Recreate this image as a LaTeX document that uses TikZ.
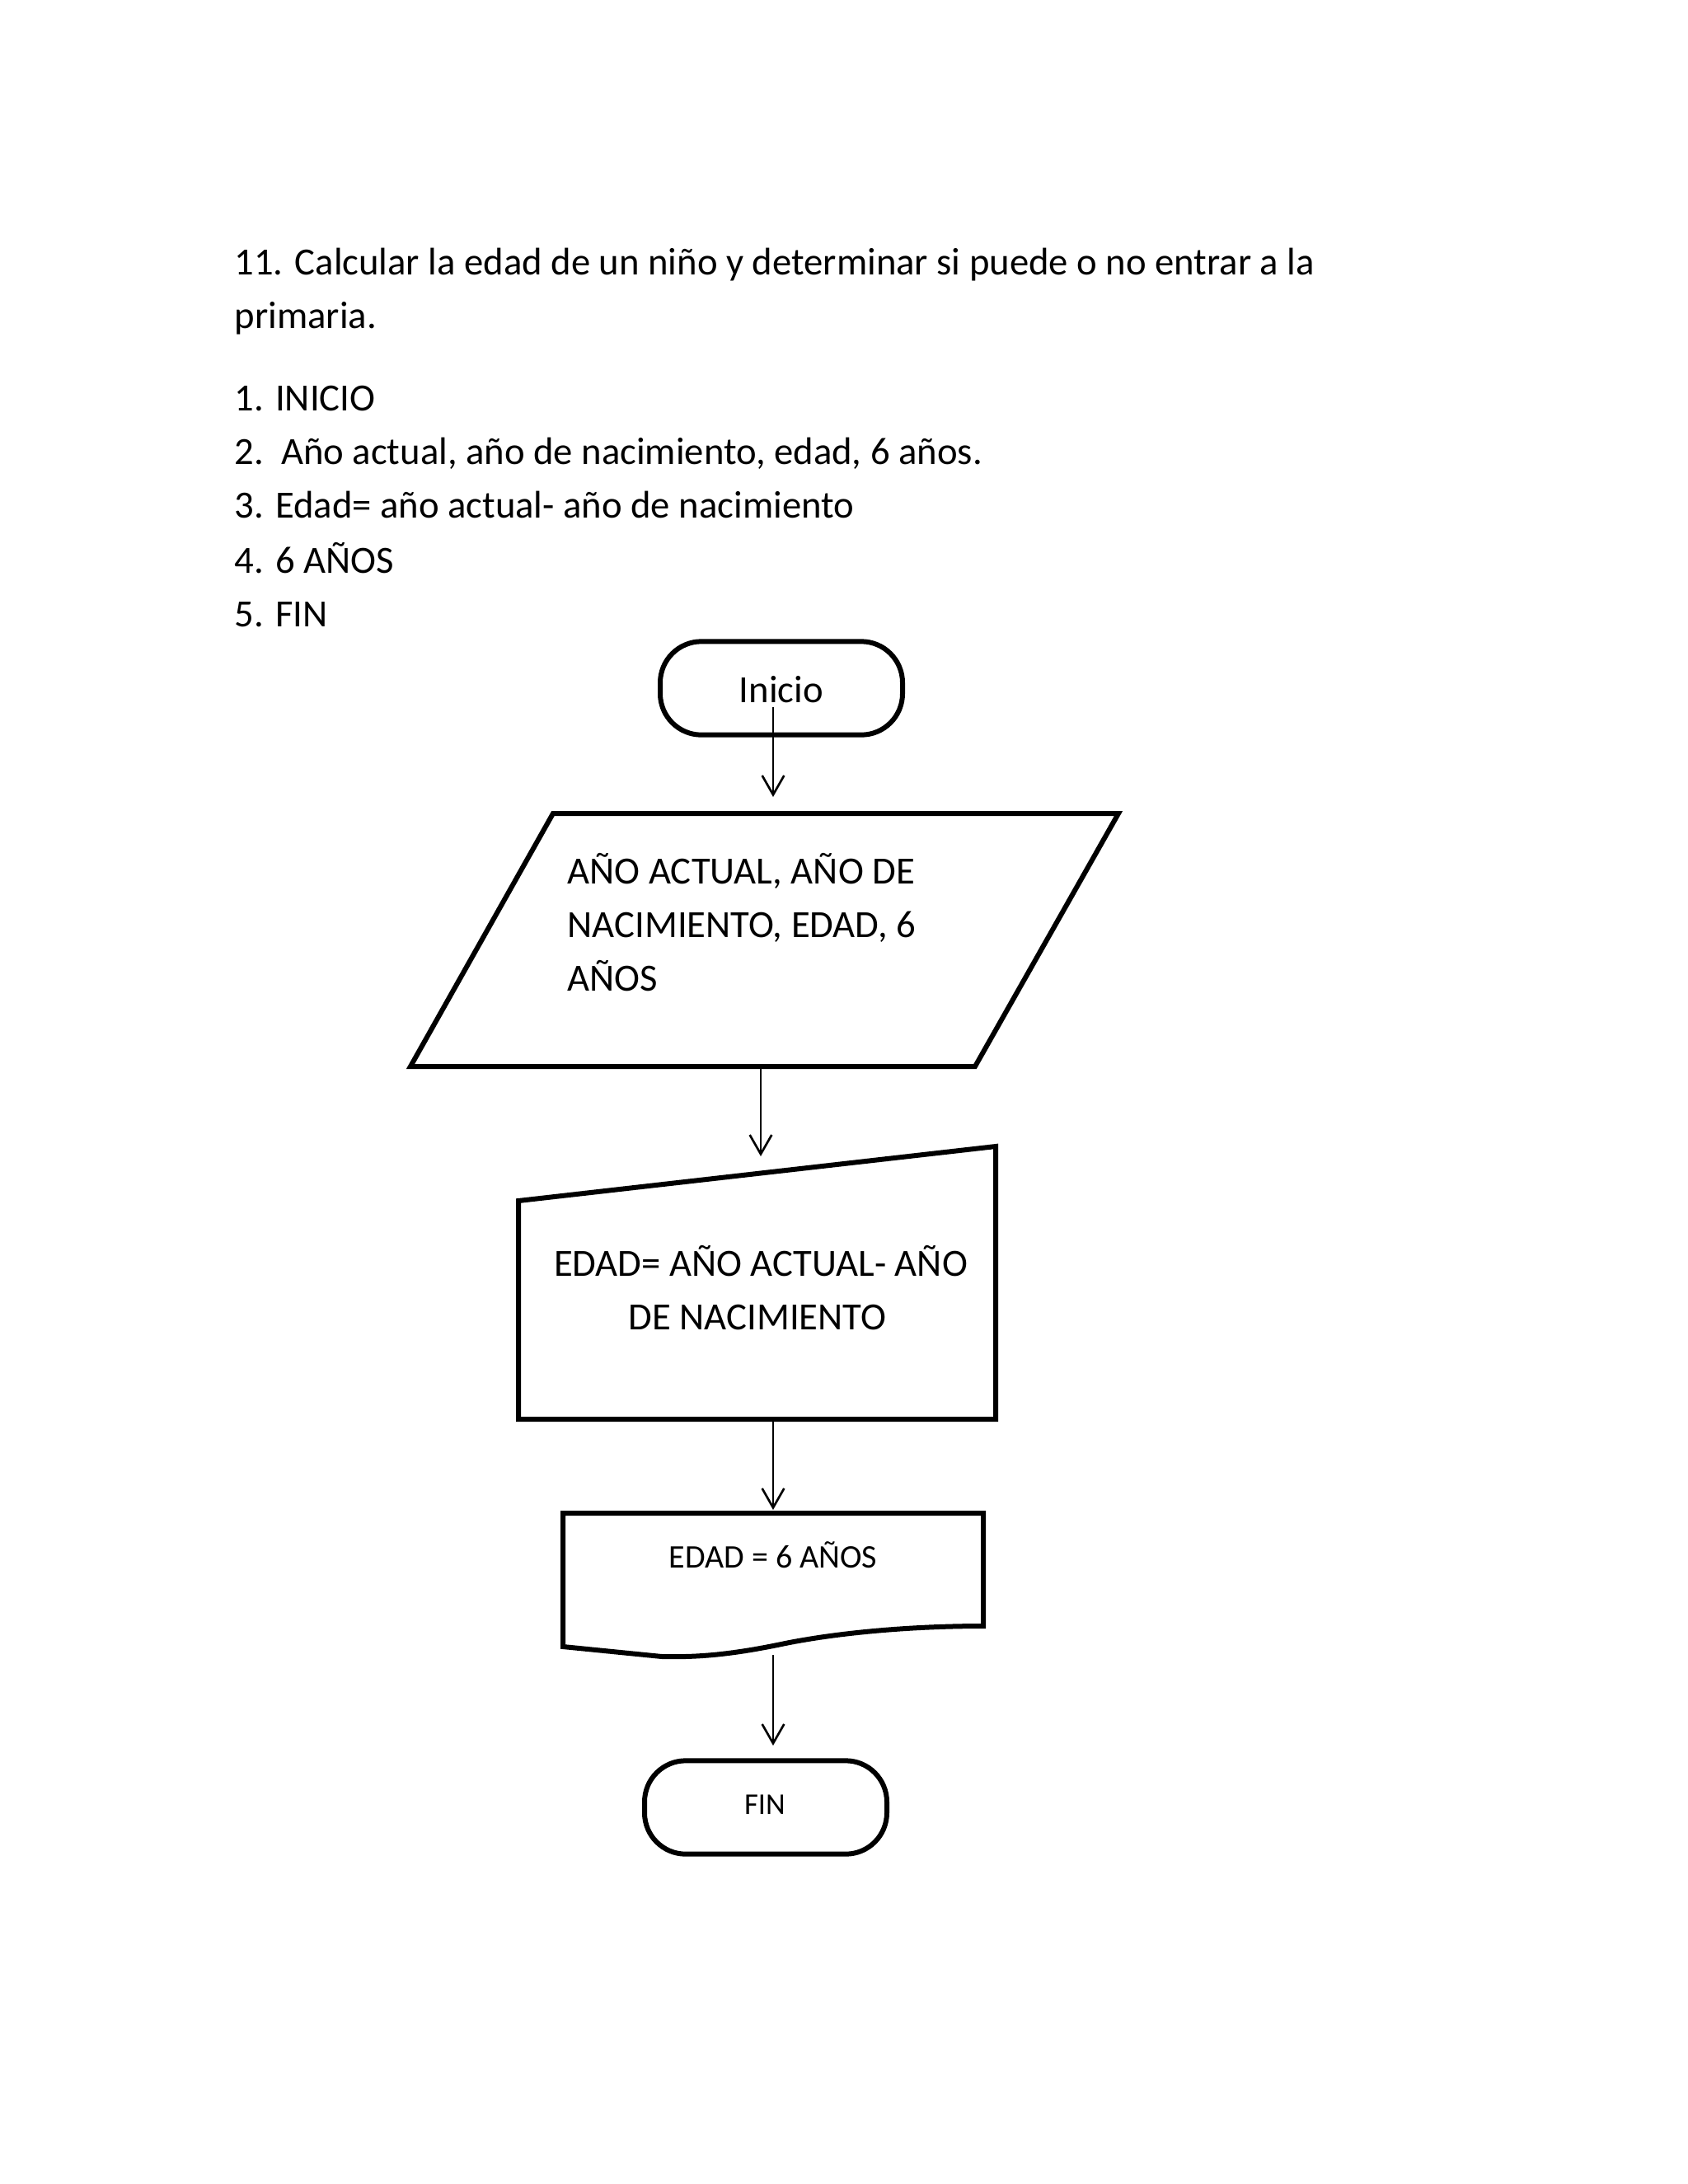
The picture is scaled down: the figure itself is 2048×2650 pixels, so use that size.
\documentclass[tikz,border=0pt]{standalone}
\usepackage{fontspec}
\setmainfont{Carlito}
\usetikzlibrary{arrows.meta}
\begin{document}
\begin{tikzpicture}[x=0.3pt,y=-0.3pt,
  shapeline/.style={draw=black, line width=1.8pt},
  term/.style={shapeline, rounded corners=15pt, minimum width=88.2pt, minimum height=34pt, inner sep=0pt},
  conn/.style={line width=0.8pt, -{Straight Barb[length=7pt,width=8pt]}},
  big/.style={inner sep=0pt, font=\fontsize{14}{17}\selectfont},
  small/.style={inner sep=0pt, font=\fontsize{11}{13}\selectfont},
  mid/.style={inner sep=0pt, font=\fontsize{12}{14}\selectfont},
  leftline/.style={big, anchor=base west},
  midline/.style={big, anchor=base}]
\fill[white] (0,0) rectangle (2048,2650);
\useasboundingbox (0,0) rectangle (2048,2650);
% header text
\node[leftline] (t1) at (284,333) {11. Calcular la edad de un niño y determinar si puede o no entrar a la};
\node[leftline] (t2) at (284,398) {primaria.};
\node[leftline] (l1) at (284,498) {1. INICIO};
\node[leftline] (l2) at (284,563) {2.\ \ Año actual, año de nacimiento, edad, 6 años.};
\node[leftline] (l3) at (284,628) {3. Edad= año actual- año de nacimiento};
\node[leftline] (l4) at (284,695) {4. 6 AÑOS};
\node[leftline] (l5) at (284,760) {5. FIN};
% Inicio terminator
\node[term] (inicio) at (948,835) {};
\node[midline] (iniciot) at (948,852) {Inicio};
% input parallelogram
\draw[shapeline] (671,987) coordinate (pTL) -- (1357,987) coordinate (pTR) -- (1183,1294) coordinate (pBR) -- (498,1294) coordinate (pBL) -- cycle;
\node[leftline] (p1) at (688,1072) {AÑO ACTUAL, AÑO DE};
\node[leftline] (p2) at (688,1137) {NACIMIENTO, EDAD, 6};
\node[leftline] (p3) at (688,1202) {AÑOS};
% manual input (process)
\draw[shapeline] (629,1457) coordinate (mTL) -- (1208,1391) coordinate (mTR) -- (1208,1722) coordinate (mBR) -- (629,1722) coordinate (mBL) -- cycle;
\node[midline] (m1) at (923,1548) {EDAD= AÑO ACTUAL- AÑO};
\node[midline] (m2) at (919,1613) {DE NACIMIENTO};
% document shape
\draw[shapeline] (683,1998) coordinate (dBL) -- (683,1836) coordinate (dTL) -- (1193,1836) coordinate (dTR) -- (1193,1973) coordinate (dBR)
  .. controls (1100,1973) and (1010,1982) .. (948,1995)
  .. controls (885,2008) and (845,2011) .. (803,2010) -- cycle;
\node[mid, anchor=base] (doct) at (938,1902) {EDAD = 6 AÑOS};
% FIN terminator
\node[term] (fin) at (929,2193) {};
\node[small] (fint) at (928,2190) {FIN};
% connectors
\coordinate (a1s) at (938,858);
\coordinate (a1e) at (938,967);
\coordinate (a2s) at (923,1294);
\coordinate (a2e) at (923,1403);
\coordinate (a3s) at (938,1722);
\coordinate (a3e) at (938,1832);
\coordinate (a4s) at (938,2008);
\coordinate (a4e) at (938,2118);
\draw[conn] (a1s) -- (a1e);
\draw[conn] (a2s) -- (a2e);
\draw[conn] (a3s) -- (a3e);
\draw[conn] (a4s) -- (a4e);
\end{tikzpicture}
\end{document}
